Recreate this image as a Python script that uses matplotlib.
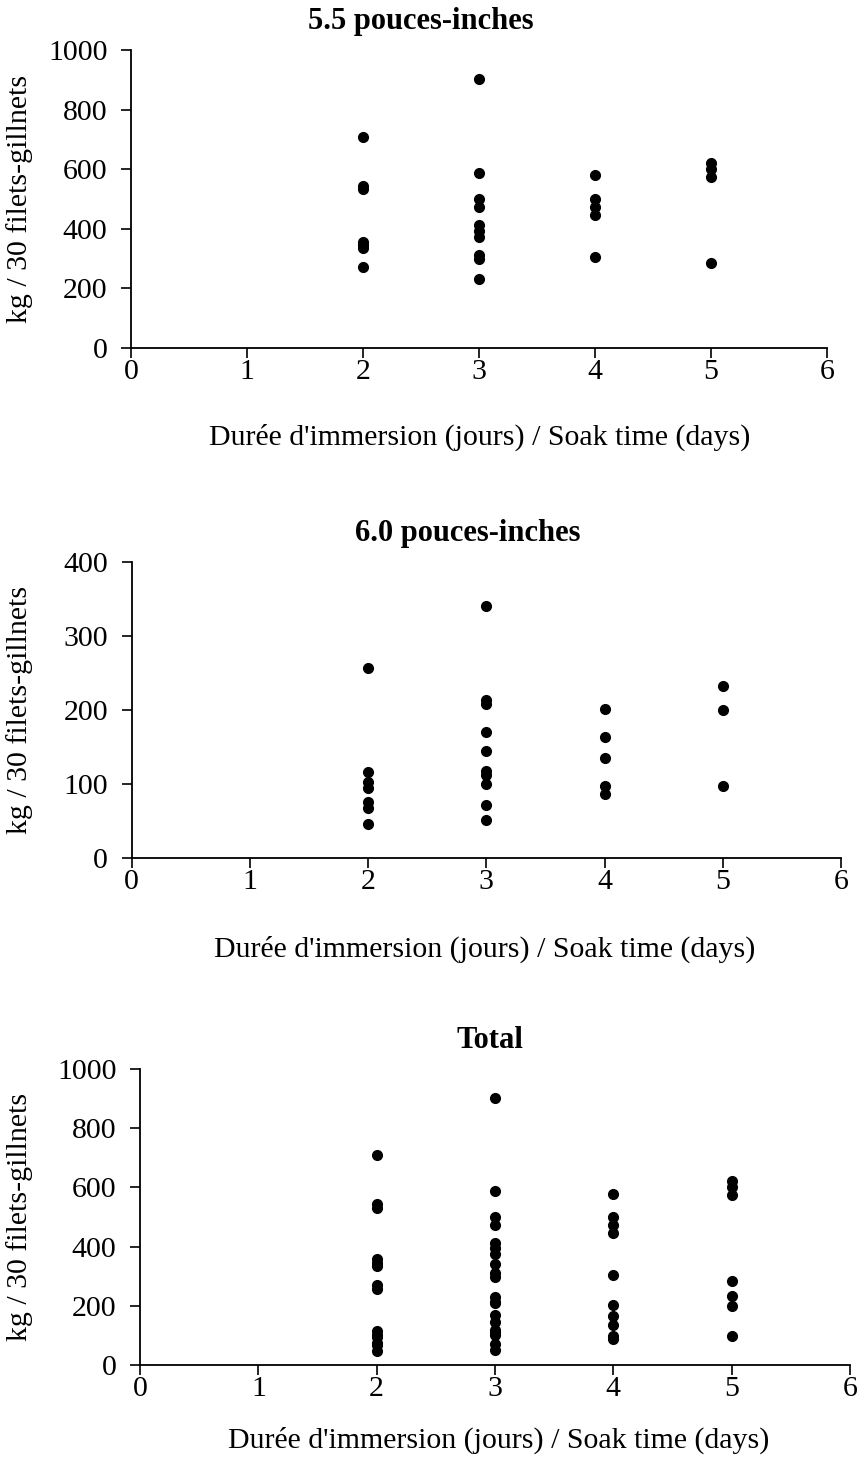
import matplotlib
matplotlib.use("Agg")
import matplotlib.pyplot as plt

plt.rcParams["font.family"] = ["Liberation Serif", "DejaVu Serif"]

# kg / 30 gillnets by soak time (days)
days_55 = [2]*7 + [3]*10 + [4]*5 + [5]*4
kg_55 = [708, 544, 532, 357, 346, 335, 271,
         903, 587, 500, 473, 413, 394, 374, 312, 298, 230,
         579, 501, 473, 446, 304,
         622, 602, 575, 284]

days_60 = [2]*7 + [3]*10 + [4]*5 + [5]*3
kg_60 = [257, 116, 103, 94, 76, 67, 46,
         340, 213, 208, 170, 145, 118, 112, 100, 72, 51,
         202, 164, 135, 97, 87,
         232, 200, 97]

# total panel = both mesh sizes together
days_tot = days_55 + days_60
kg_tot = kg_55 + kg_60

titles = ["5.5 pouces-inches", "6.0 pouces-inches", "Total"]
xlabel = "Durée d'immersion (jours) / Soak time (days)"
ylabel = "kg / 30 filets-gillnets"
x_ticks = [0, 1, 2, 3, 4, 5, 6]

W, H = 860, 1468
fig = plt.figure(figsize=(W / 100, H / 100), dpi=100)

# axes boxes in pixels: x-left, x-right, y of 0, y of top
boxes = [(131, 827, 348, 50), (131.7, 841, 858, 562), (140, 850, 1365, 1069)]
ylims = [1000, 400, 1000]
ysteps = [200, 100, 200]
data = [(days_55, kg_55), (days_60, kg_60), (days_tot, kg_tot)]
title_pos = [(421, 22), (468, 533), (490, 1040)]
xlab_pos = [(480, 437), (485, 949), (499, 1440)]

fs = 21.5
for i in range(3):
    x0, x1, yb, yt = boxes[i]
    ax = fig.add_axes([x0 / W, 1 - yb / H, (x1 - x0) / W, (yb - yt) / H])
    xs, ys = data[i]
    ax.plot(xs, ys, "o", color="black", markersize=7, clip_on=False)
    ax.set_xlim(0, 6)
    ax.set_ylim(0, ylims[i])
    ax.set_xticks(x_ticks)
    ax.set_yticks(range(0, ylims[i] + 1, ysteps[i]))
    for s in ["top", "right"]:
        ax.spines[s].set_visible(False)
    for s in ["left", "bottom"]:
        ax.spines[s].set_linewidth(1.3)
    ax.tick_params(axis="both", direction="out", length=7, width=1.2,
                   labelsize=fs)
    ax.tick_params(axis="x", pad=1)
    ax.tick_params(axis="y", pad=10)
    ax.set_ylabel(ylabel, fontsize=fs)
    ax.yaxis.set_label_coords((33 - x0) / (x1 - x0), 0.5)
    fig.text(title_pos[i][0] / W, 1 - title_pos[i][1] / H, titles[i],
             fontsize=22, fontweight="bold", ha="center", va="center")
    fig.text(xlab_pos[i][0] / W, 1 - xlab_pos[i][1] / H, xlabel,
             fontsize=fs, ha="center", va="center")

plt.savefig("out.png", dpi=100)
